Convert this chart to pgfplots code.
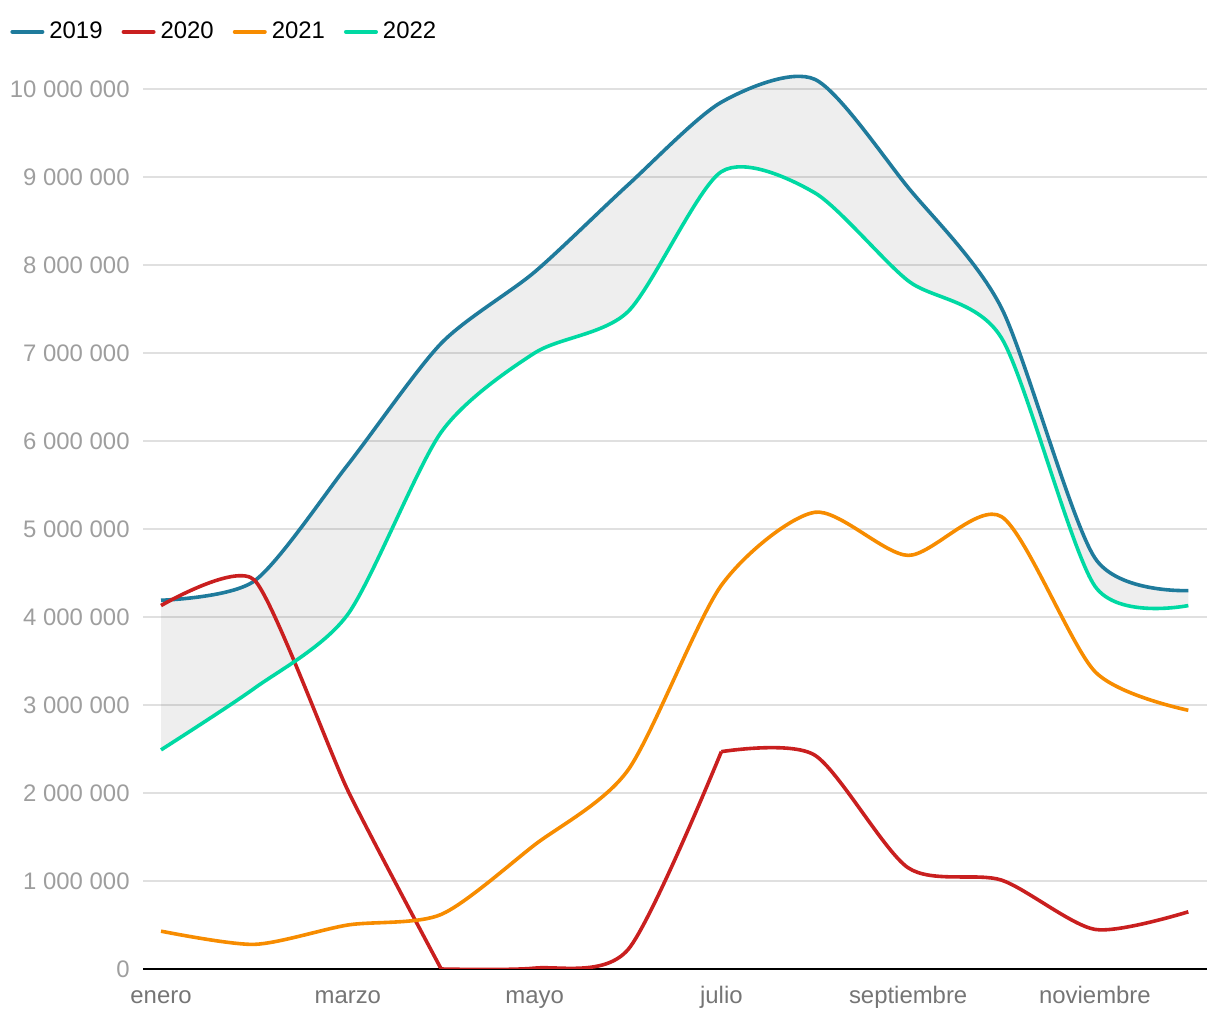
\documentclass[border=0pt]{standalone}
\usepackage{pgfplots}
\pgfplotsset{compat=1.18}
\usepgfplotslibrary{fillbetween}
\usepackage{fontspec}
\setmainfont{Liberation Sans}
\definecolor{c19}{HTML}{1F7B9C}
\definecolor{c20}{HTML}{C91F1F}
\definecolor{c21}{HTML}{F78C00}
\definecolor{c22}{HTML}{00D9A3}
\definecolor{gridc}{HTML}{E0E0E0}
\definecolor{ytl}{HTML}{9E9E9E}
\definecolor{xtl}{HTML}{757575}
\begin{document}
\begin{tikzpicture}
\begin{axis}[
  set layers,
  scale only axis,
  width=532bp, height=448.8bp,
  xmin=-0.193, xmax=11.2,
  ymin=0, ymax=10.2,
  axis x line*=bottom, axis y line*=left,
  x axis line style={line width=1bp, black},
  y axis line style={draw=none},
  major tick length=0,
  xtick={0,2,4,6,8,10},
  xticklabels={enero,marzo,mayo,julio,septiembre,noviembre},
  ytick={0,1,2,3,4,5,6,7,8,9,10},
  yticklabels={0,1 000 000,2 000 000,3 000 000,4 000 000,5 000 000,6 000 000,7 000 000,8 000 000,9 000 000,10 000 000},
  ymajorgrids,
  grid style={gridc, line width=0.6bp},
  yticklabel style={font=\fontsize{12}{14}\selectfont, text=ytl, anchor=east, inner sep=0pt, xshift=-6.5bp},
  xticklabel style={font=\fontsize{12}{14}\selectfont, text=xtl, anchor=base, inner sep=0pt, yshift=-17bp},
  legend columns=4,
  legend style={at={(axis description cs:-0.125,1.044)}, anchor=west, draw=none, fill=none,
    font=\fontsize{12}{14}\selectfont, inner sep=0pt,
    nodes={inner xsep=2.5bp},
    /tikz/every even column/.append style={column sep=7bp}},
  legend image code/.code={\draw[line width=2bp, line cap=round] (0bp,0bp) -- (15bp,0bp);},
  ln/.style={line width=1.8bp, smooth, tension=0.45, line join=round},
]
\addplot[c19, ln, name path=A] coordinates {(0,4.19) (1,4.41) (2,5.73) (3,7.11) (4,7.92) (5,8.91) (6,9.85) (7,10.11) (8,8.88) (9,7.51) (10,4.67) (11,4.30)};
\addlegendentry{2019}
\addplot[c20, ln, tension=0.35] coordinates {(0,4.13) (1,4.42) (2,2.03) (3,0)};
\addlegendentry{2020}
\addplot[c20, ln, forget plot, clip=false] coordinates {(3,0) (4,0.01) (5,0.22) (6,2.47)};
\addplot[c20, ln, forget plot] coordinates {(6,2.47) (7,2.43) (8,1.15) (9,1.01) (10,0.45) (11,0.65)};
\addplot[c21, ln] coordinates {(0,0.43) (1,0.28) (2,0.50) (3,0.62) (4,1.41) (5,2.26) (6,4.36) (7,5.19) (8,4.70) (9,5.14) (10,3.38) (11,2.94)};
\addlegendentry{2021}
\addplot[c22, ln, name path=B] coordinates {(0,2.49) (1,3.19) (2,4.03) (3,6.10) (4,7.00) (5,7.47) (6,9.06) (7,8.82) (8,7.82) (9,7.17) (10,4.35) (11,4.13)};
\addlegendentry{2022}
\addplot[fill=black, fill opacity=0.065, draw=none] fill between[of=A and B];
\end{axis}
\path (-71.5bp,-25.5bp) rectangle (538.5bp,484.5bp);
\end{tikzpicture}
\end{document}
